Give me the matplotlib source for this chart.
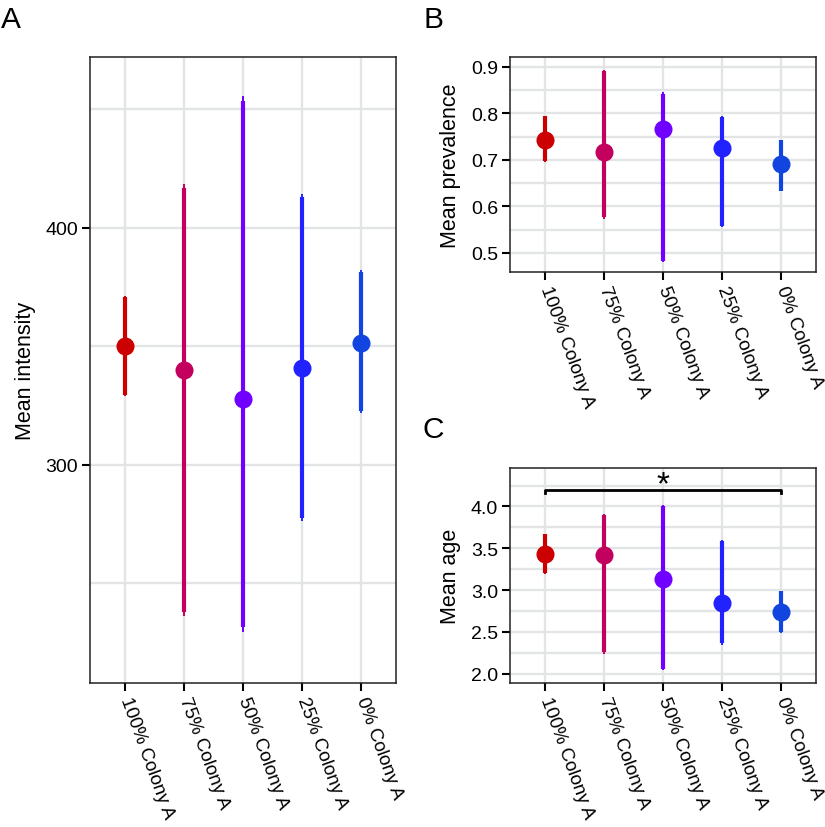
import matplotlib
matplotlib.use("Agg")
import matplotlib.pyplot as plt
from matplotlib.ticker import MultipleLocator, FormatStrFormatter

plt.rcParams['font.family'] = ['Liberation Sans', 'DejaVu Sans']

# data
groups = ["100% Colony A", "75% Colony A", "50% Colony A", "25% Colony A", "0% Colony A"]
colors = ["#CC0000", "#C4005F", "#7000FF", "#2222FF", "#1244E0"]

intensity_mean = [350.2, 340.1, 327.8, 341.0, 351.5]
intensity_low = [329.1, 236.3, 229.5, 276.4, 322.0]
intensity_high = [371.3, 418.6, 455.7, 414.3, 382.0]

prev_mean = [0.743, 0.716, 0.766, 0.726, 0.692]
prev_low = [0.696, 0.573, 0.480, 0.555, 0.632]
prev_high = [0.795, 0.894, 0.845, 0.795, 0.743]

age_mean = [3.435, 3.423, 3.136, 2.850, 2.738]
age_low = [3.196, 2.240, 2.040, 2.350, 2.490]
age_high = [3.674, 3.913, 4.020, 3.594, 2.990]

sig_pair = (0, 4)
sig_y = 4.2
sig_label = "*"

W, H = 825, 828
fig = plt.figure(figsize=(W / 100, H / 100), dpi=100)

GRID = "#E2E4E5"


def frame(left, top, right, bottom):
    return [left / W, 1 - bottom / H, (right - left) / W, (bottom - top) / H]


def pointrange(ax, mean, low, high, ylim, major, minor, fmt, ylabel):
    x = list(range(1, len(groups) + 1))
    for xi, m, lo, hi, c in zip(x, mean, low, high, colors):
        ax.plot([xi, xi], [lo, hi], color=c, lw=1.4, solid_capstyle="butt", zorder=3)
        span = (hi - lo) * 0.01
        ax.plot([xi, xi], [lo + span, hi - span], color=c, lw=3.0,
                solid_capstyle="butt", zorder=3)
        ax.plot(xi, m, "o", color=c, markersize=13, markeredgewidth=0, zorder=4)
    ax.set_xlim(0.4, 5.6)
    ax.set_ylim(*ylim)
    ax.yaxis.set_major_locator(MultipleLocator(major))
    ax.yaxis.set_minor_locator(MultipleLocator(minor))
    ax.yaxis.set_major_formatter(FormatStrFormatter(fmt))
    ax.set_xticks(x)
    ax.set_xticklabels(groups, rotation=-70, ha="left", va="center",
                       rotation_mode="anchor", fontsize=13.5)
    ax.grid(True, which="major", color=GRID, lw=1.7, zorder=0)
    ax.grid(True, which="minor", axis="y", color=GRID, lw=1.7, zorder=0)
    ax.set_axisbelow(True)
    ax.tick_params(axis="both", which="major", length=5.5, width=1.5,
                   color="black", pad=3)
    ax.tick_params(axis="y", which="major", labelsize=14)
    ax.tick_params(axis="x", which="major", pad=5)
    ax.tick_params(axis="y", which="minor", length=0)
    for s in ax.spines.values():
        s.set_linewidth(1.1)
        s.set_color("#222222")
    ax.set_ylabel(ylabel, fontsize=15.5, labelpad=7)


axA = fig.add_axes(frame(90, 58, 396, 684))
pointrange(axA, intensity_mean, intensity_low, intensity_high, (208, 472),
           100, 50, "%d", "Mean intensity")

axB = fig.add_axes(frame(510, 58, 816, 273))
pointrange(axB, prev_mean, prev_low, prev_high, (0.459, 0.921),
           0.1, 0.05, "%.1f", "Mean prevalence")

axC = fig.add_axes(frame(510, 469, 816, 684))
pointrange(axC, age_mean, age_low, age_high, (1.89, 4.46),
           0.5, 0.25, "%.1f", "Mean age")

# significance bracket
x1, x2 = sig_pair[0] + 1, sig_pair[1] + 1
axC.plot([x1, x1, x2, x2], [sig_y - 0.04, sig_y, sig_y, sig_y - 0.04],
         color="black", lw=2.0, zorder=5)
axC.text((x1 + x2) / 2, sig_y - 0.12, sig_label, ha="center", va="bottom",
         fontsize=24, zorder=5)

# panel letters
fig.text(1 / W, 1 - 28 / H, "A", fontsize=21.5, ha="left", va="baseline")
fig.text(423 / W, 1 - 28 / H, "B", fontsize=21.5, ha="left", va="baseline")
fig.text(423 / W, 1 - 438 / H, "C", fontsize=21.5, ha="left", va="baseline")

fig.savefig("out.png", dpi=100)
